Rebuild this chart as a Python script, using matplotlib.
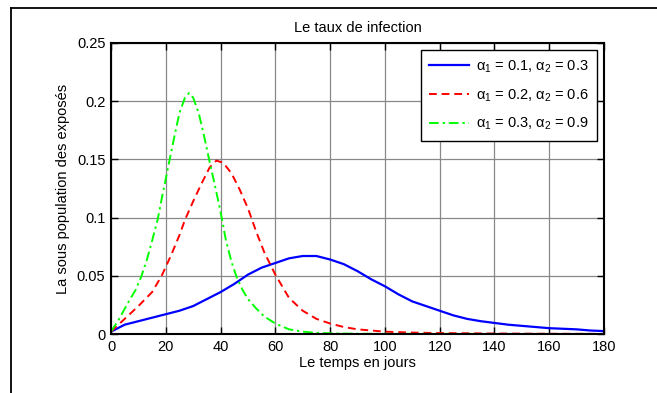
import numpy as np
import matplotlib

matplotlib.use("Agg")

import matplotlib.pyplot as plt
from matplotlib.lines import Line2D

plt.rcParams["font.family"] = ["Liberation Sans", "DejaVu Sans"]
plt.rcParams["mathtext.fontset"] = "custom"
plt.rcParams["mathtext.rm"] = "Liberation Sans"
plt.rcParams["mathtext.it"] = "Liberation Sans"

# ----- data (days, exposed fraction) -----
t_blue = [0, 5, 10, 15, 20, 25, 30, 35, 40, 45, 50, 55, 60, 65, 70, 75,
          80, 85, 90, 95, 100, 105, 110, 115, 120, 125, 130, 135, 140,
          145, 150, 155, 160, 165, 170, 175, 180]
e_blue = [0.002, 0.008, 0.011, 0.014, 0.017, 0.020, 0.024, 0.030, 0.036,
          0.043, 0.051, 0.057, 0.061, 0.065, 0.067, 0.067, 0.064, 0.060,
          0.054, 0.047, 0.041, 0.034, 0.028, 0.024, 0.020, 0.016, 0.013,
          0.011, 0.0095, 0.008, 0.007, 0.006, 0.005, 0.0045, 0.004, 0.003,
          0.0025]

t_red = [0, 5, 10, 15, 18.5, 22, 25, 27, 30, 33, 36, 38.5, 41, 44, 47, 50,
         53, 56, 60, 65, 70, 75, 80, 85, 90, 95, 100, 110, 120, 140, 160, 180]
e_red = [0.002, 0.013, 0.024, 0.036, 0.050, 0.068, 0.085, 0.098, 0.114,
         0.129, 0.143, 0.149, 0.147, 0.138, 0.124, 0.108, 0.088, 0.070,
         0.051, 0.031, 0.020, 0.013, 0.009, 0.006, 0.004, 0.003, 0.002,
         0.0012, 0.0008, 0.0004, 0.0002, 0.0001]

t_green = [0, 3, 6, 9, 11, 13, 15, 17, 19, 21, 23, 25, 27, 28.5, 30, 32, 34,
           36, 38, 40, 42, 44, 46, 48, 50, 53, 56, 60, 65, 70, 75, 80, 90,
           110, 180]
e_green = [0.002, 0.013, 0.026, 0.038, 0.049, 0.063, 0.080, 0.098, 0.122,
           0.145, 0.168, 0.190, 0.203, 0.207, 0.203, 0.190, 0.170, 0.148,
           0.127, 0.105, 0.080, 0.062, 0.048, 0.038, 0.030, 0.022, 0.015,
           0.009, 0.004, 0.002, 0.001, 0.0006, 0.0002, 0.0001, 0.0]

labels = [r"$\alpha_1$ = 0.1, $\alpha_2$ = 0.3",
          r"$\alpha_1$ = 0.2, $\alpha_2$ = 0.6",
          r"$\alpha_1$ = 0.3, $\alpha_2$ = 0.9"]

x_ticks = np.arange(0, 181, 20)
y_ticks = [0, 0.05, 0.1, 0.15, 0.2, 0.25]

# ----- plotting -----
W, H = 657, 393
fig = plt.figure(figsize=(W / 100, H / 100), dpi=100)
ax = fig.add_axes([111 / W, 1 - 334 / H, (604 - 111) / W, (334 - 43) / H])

ax.plot(t_blue, e_blue, color=(0, 0, 1), lw=1.6, ls="-", label=labels[0])
ax.plot(t_red, e_red, color=(1, 0, 0), lw=1.4, ls=(0, (4, 2.5)), label=labels[1])
ax.plot(t_green, e_green, color=(0, 1, 0), lw=1.4, ls=(0, (5, 2, 1.2, 2)),
        label=labels[2])

ax.set_xlim(0, 180)
ax.set_ylim(0, 0.25)
ax.set_xticks(x_ticks)
ax.set_yticks(y_ticks)
ax.set_yticklabels(["0", "0.05", "0.1", "0.15", "0.2", "0.25"])

ax.grid(True, color="#888888", lw=0.9, ls="-")
ax.set_axisbelow(True)
ax.tick_params(direction="in", length=5, width=1, top=True, right=True,
               labelsize=10.5, pad=4)
for sp in ax.spines.values():
    sp.set_linewidth(1.5)

ax.set_title("Le taux de infection", fontsize=10.5, pad=8)
ax.set_xlabel("Le temps en jours", fontsize=10.5, labelpad=2)
ax.set_ylabel("La sous population des exposés", fontsize=10.5, labelpad=5)

leg = ax.legend(loc="upper right", fontsize=10.5, frameon=True, fancybox=False,
                framealpha=1, edgecolor="black", handlelength=2.7,
                handletextpad=0.5, labelspacing=0.85, borderaxespad=0.45,
                borderpad=0.6)
leg.get_frame().set_linewidth(1.0)

# outer frame lines
fig.add_artist(Line2D([11 / W, 11 / W], [0, 1 - 8 / H], color="black", lw=1.3))
fig.add_artist(Line2D([11 / W, 1], [1 - 8 / H, 1 - 8 / H], color="black", lw=1.3))

fig.savefig("out.png", dpi=100)
